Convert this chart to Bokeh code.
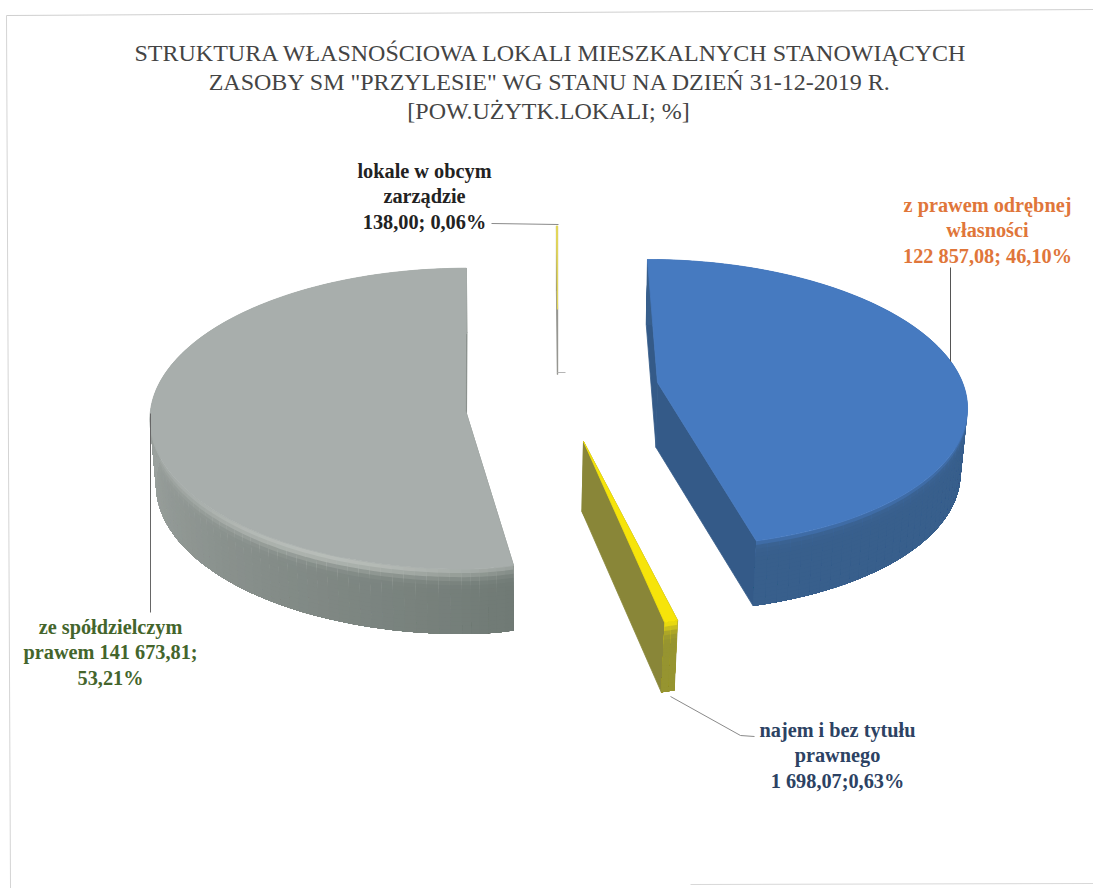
import math
from bokeh.embed import file_html
from bokeh.resources import INLINE
from bokeh.plotting import figure
from bokeh.core.properties import value

# Shares of usable floor area, percent, clockwise from twelve o'clock
categories = ["z prawem odrębnej własności", "najem i bez tytułu prawnego",
              "ze spółdzielczym prawem", "lokale w obcym zarządzie"]
areas = [122857.08, 1698.07, 141673.81, 138.00]
shares = [46.10, 0.63, 53.21, 0.06]

title_lines = ['STRUKTURA WŁASNOŚCIOWA  LOKALI MIESZKALNYCH STANOWIĄCYCH',
               'ZASOBY SM "PRZYLESIE" WG STANU NA DZIEŃ  31-12-2019 R.',
               '[POW.UŻYTK.LOKALI;  %]']
label_lines = [["z prawem odrębnej", "własności", "122 857,08; 46,10%"],
               ["najem i bez tytułu", "prawnego", "1 698,07;0,63%"],
               ["ze spółdzielczym", "prawem 141 673,81;", "53,21%"],
               ["lokale w obcym", "zarządzie", "138,00; 0,06%"]]
label_colors = ["#e0763a", "#2c4263", "#44652c", "#222222"]

W, H = 1093, 888
WALL_ROWS = 16
WALL_STEP = 2.0


def mix(c1, c2, t):
    return tuple(a + (b - a) * t for a, b in zip(c1, c2))


def to_hex(c):
    return "#%02x%02x%02x" % tuple(int(round(v)) for v in c)


# Projection of each exploded slice: apex on the page, radii, perspective, thickness
slices = [
    dict(apex=(657, 382), a=305, a_pos=305, b=140.6, k=0.143, vx=577, s=0.982, h=65,
         top=(70, 122, 192), cut=(52, 90, 136), rim=(70, 122, 192), rim_amount=0.15, rim_peak=None,
         near=(54, 92, 138), far=(56, 95, 140), stroke=0.8),
    dict(apex=(583, 441), a=305, a_pos=305, b=163, k=0.12, vx=504, s=0.98, h=70,
         top=(246, 228, 10), cut=(137, 134, 56), rim=(246, 228, 10), rim_amount=0.8, rim_peak=None,
         near=(150, 148, 48), far=(150, 148, 48), stroke=0.8),
    dict(apex=(465, 410), a=315, a_pos=233, b=150, k=0.054, vx=504, s=0.983, h=65,
         top=(168, 174, 172), cut=(125, 132, 128), rim=(214, 218, 212), rim_amount=0.8, rim_peak=205.0,
         near=(112, 122, 117), far=(156, 162, 159), stroke=0.8),
    dict(apex=(557, 309), a=305, a_pos=305, b=95, k=0.14, vx=557, s=1.0, h=65,
         top=(226, 214, 90), cut=(150, 150, 145), rim=(150, 150, 145), rim_amount=0.0, rim_peak=None,
         near=(150, 150, 145), far=(150, 150, 145), stroke=1.2),
]


def project(sl, theta_deg, r=1.0, t=0.0):
    """Page position of a point on a slice: angle, radial fraction, depth fraction."""
    th = math.radians(theta_deg)
    sx, sy = math.sin(th) * r, math.cos(th) * r
    f = 1.0 / (1.0 + sl["k"] * sy)
    ax, ay = sl["apex"]
    a = sl["a_pos"] if sx > 0 else sl["a"]
    x = sl["vx"] + (ax - sl["vx"] + a * sx) * f
    y = ay - sl["b"] * sy * f
    scale = 1.0 + (sl["s"] - 1.0) * t
    return sl["vx"] + (x - sl["vx"]) * scale, y + sl["h"] * t


p = figure(width=W, height=H, x_range=(0, W), y_range=(H, 0),
           output_backend="svg", toolbar_location=None, min_border=0)
p.axis.visible = False
p.grid.visible = False
p.outline_line_color = None
p.background_fill_color = "#ffffff"
p.border_fill_color = "#ffffff"

# Thin page frame
p.line([6, 1093], [15, 9], line_color="#cfcfcf", line_width=1)
p.line([6, 10], [15, 888], line_color="#d4d4d4", line_width=1)
p.line([690, 1093], [884, 883], line_color="#d8d8d8", line_width=1)

start = 0.0
for sl, share in zip(slices, shares):
    end = start + share * 3.6
    n = max(2, int((end - start) / WALL_STEP))
    thetas = [start + (end - start) * i / n for i in range(n + 1)]

    # Straight cut walls at both ends of the slice
    for th in (start, end):
        pts = [project(sl, th, 0, 0), project(sl, th, 1, 0),
               project(sl, th, 1, 1), project(sl, th, 0, 1)]
        p.patch([q[0] for q in pts], [q[1] for q in pts], fill_color=to_hex(sl["cut"]),
                line_color=to_hex(sl["cut"]), line_width=sl["stroke"])

    # Curved outer wall: each cell runs on to the wall's foot and into the next
    # angular step, so later cells paint over the joins and leave no seams
    xs, ys, cols = [], [], []
    for i in range(n):
        t0 = thetas[i]
        t1 = thetas[min(i + 2, n)]
        mid = (thetas[i] + thetas[i + 1]) / 2
        w = min(1.0, max(0.0, (mid - 170.0) / 100.0)) if start > 90 else 1.0
        base = mix(sl["near"], sl["far"], w)
        amount = sl["rim_amount"]
        if sl["rim_peak"] is not None:
            amount *= math.exp(-((mid - sl["rim_peak"]) / 38.0) ** 2)
        for row in range(WALL_ROWS):
            d0 = row / WALL_ROWS
            dm = (row + 0.5) / WALL_ROWS
            arc_a = [project(sl, t0 + (t1 - t0) * j / 3, 1, d0) for j in range(4)]
            arc_b = [project(sl, t1 - (t1 - t0) * j / 3, 1, 1) for j in range(4)]
            q = arc_a + arc_b
            xs.append([c[0] for c in q])
            ys.append([c[1] for c in q])
            color = mix(base, sl["rim"], math.exp(-(dm / 0.14) ** 2) * amount)
            color = mix(color, sl["top"], math.exp(-(dm / 0.05) ** 2) * 0.6)
            cols.append(to_hex(color))
    p.patches(xs, ys, fill_color=cols, line_color=None)

    # Top face
    pts = [project(sl, 0, 0, 0)] + [project(sl, start + (end - start) * i / 120, 1, 0) for i in range(121)]
    p.patch([q[0] for q in pts], [q[1] for q in pts], fill_color=to_hex(sl["top"]),
            line_color=to_hex(sl["top"]), line_width=sl["stroke"])
    start = end

# Leader lines
p.line([950, 950], [267, 361], line_color="#555555", line_width=1)
p.line([150, 150], [413, 612], line_color="#666666", line_width=1)
p.line([670, 740, 754], [696, 735, 736], line_color="#8a8a8a", line_width=1)
p.line([491, 558], [223, 224], line_color="#8a8a8a", line_width=1)
p.line([557, 565], [372, 372], line_color="#b5b5b5", line_width=1)

# Title
p.text([554, 553, 551], [52, 81, 110], text=title_lines, text_align="center", text_baseline="middle",
       text_font=value("Liberation Serif"), text_font_size="24px", text_color="#444444")

# Data labels
label_x = [987, 837, 110, 424]
label_y = [204, 729, 626, 170]
for lines, color, lx, ly in zip(label_lines, label_colors, label_x, label_y):
    p.text([lx] * 3, [ly + 25.5 * i for i in range(3)], text=lines, text_align="center",
           text_baseline="middle", text_font=value("Liberation Serif"), text_font_style="bold",
           text_font_size="20.3px", text_color=color)

open("out.html", "w").write(file_html(p, INLINE))
